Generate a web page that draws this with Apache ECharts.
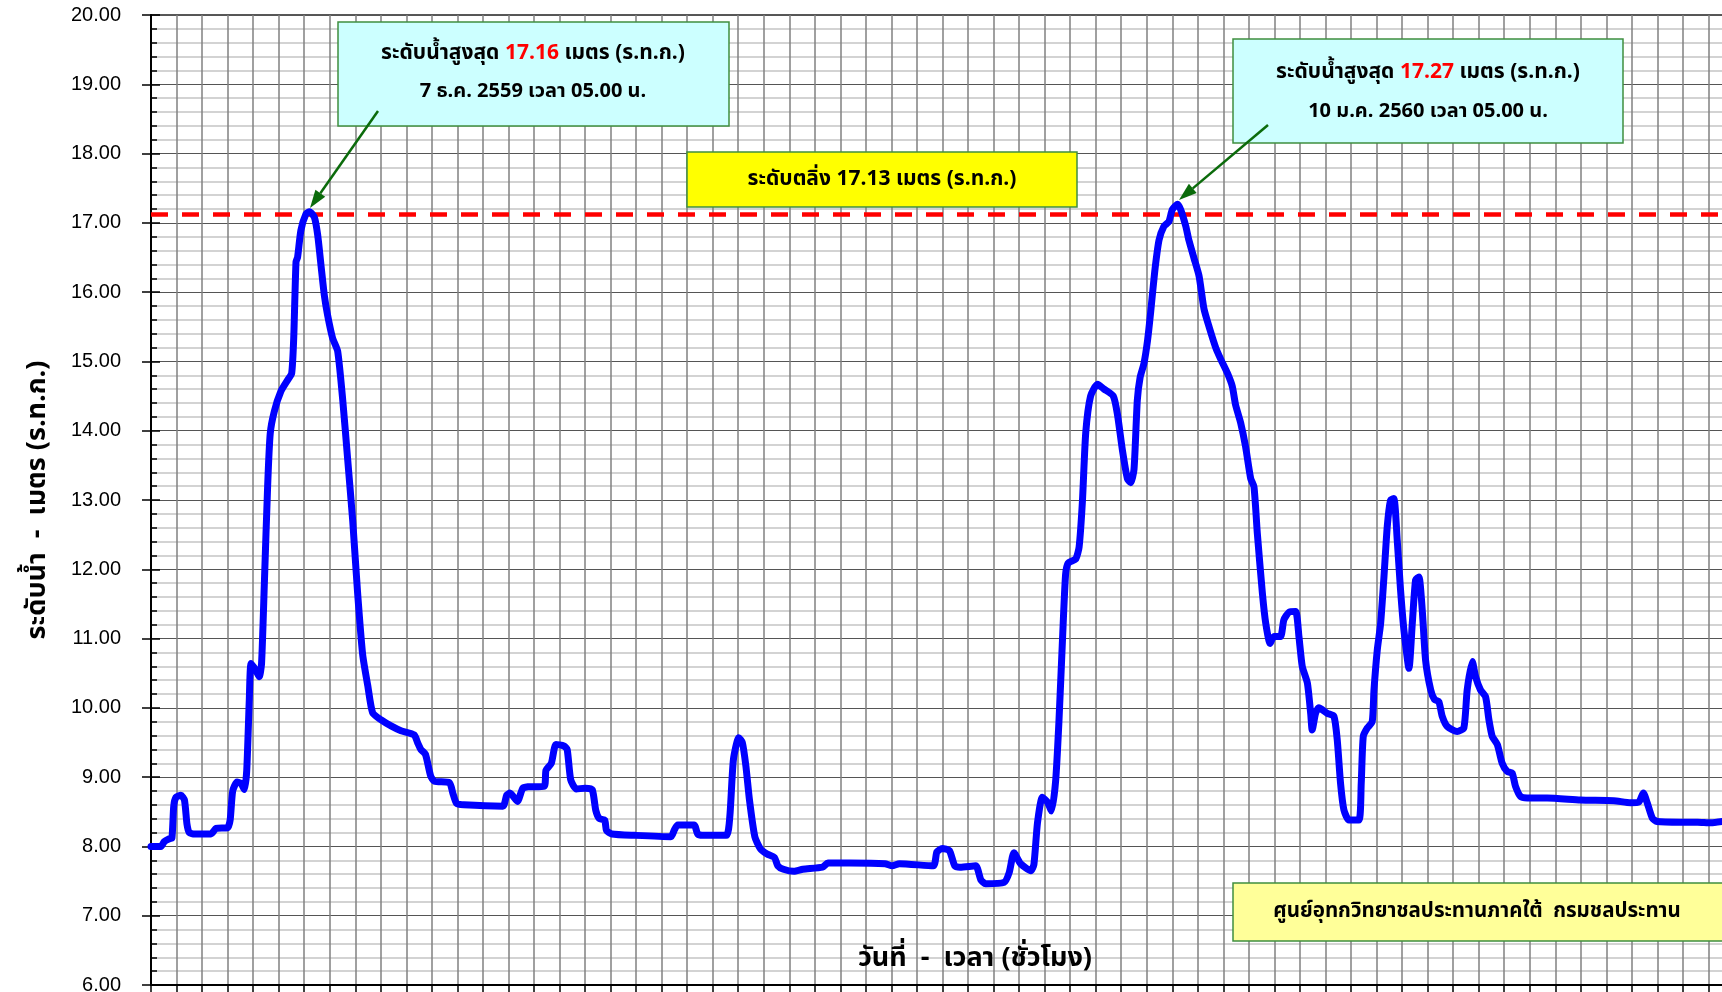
<!DOCTYPE html>
<html>
<head>
<meta charset="utf-8">
<script src="https://cdn.jsdelivr.net/npm/echarts@6/dist/echarts.min.js"></script>
<style>
  html, body { margin: 0; padding: 0; background: #fff; }
  #main { width: 1722px; height: 992px; }
</style>
</head>
<body>
<div id="main"></div>
<script>
/* วันนับจาก 1 ธ.ค. 2559 00.00 น. (หน่วย: วัน) */
var days = [
  0.00, 0.39, 0.52, 0.72, 0.82, 0.89, 0.98, 1.17, 1.31, 1.41,
  1.50, 1.70, 2.35, 2.55, 3.00, 3.10, 3.20, 3.37, 3.52, 3.66,
  3.75, 3.85, 3.92, 4.11, 4.24, 4.33, 4.44, 4.57, 4.67, 4.83,
  5.09, 5.35, 5.51, 5.59, 5.68, 5.74, 5.87, 6.07, 6.21, 6.40,
  6.53, 6.68, 6.79, 6.92, 7.11, 7.31, 7.51, 7.70, 7.90, 8.09,
  8.29, 8.49, 8.68, 9.00, 9.40, 9.79, 10.31, 10.44, 10.57, 10.75,
  10.95, 11.10, 11.69, 11.82, 11.97, 12.25, 13.78, 13.93, 14.06, 14.35,
  14.56, 14.76, 15.40, 15.47, 15.68, 15.86, 16.17, 16.30, 16.44, 16.66,
  17.00, 17.28, 17.42, 17.56, 17.77, 17.84, 18.05, 18.96, 20.36, 20.50,
  20.63, 21.27, 21.41, 21.61, 22.53, 22.67, 22.81, 23.02, 23.16, 23.30,
  23.44, 23.65, 23.86, 24.13, 24.42, 24.55, 24.77, 25.18, 25.53, 26.30,
  26.51, 27.35, 28.75, 29.03, 29.31, 30.64, 30.78, 30.99, 31.27, 31.48,
  31.69, 32.30, 32.50, 32.69, 33.41, 33.61, 33.80, 34.06, 34.46, 34.58,
  34.72, 34.91, 35.11, 35.27, 35.43, 35.56, 35.70, 35.82, 35.92, 36.22,
  36.35, 36.48, 36.61, 36.80, 37.07, 37.33, 37.69, 37.85, 38.05, 38.24,
  38.37, 38.50, 38.63, 38.74, 38.89, 39.03, 39.15, 39.31, 39.48, 39.67,
  39.87, 40.00, 40.21, 40.33, 40.53, 40.65, 40.85, 41.05, 41.24, 41.44,
  41.70, 41.90, 42.16, 42.35, 42.48, 42.68, 42.87, 43.07, 43.20, 43.33,
  43.53, 43.66, 43.83, 43.98, 44.24, 44.37, 44.57, 44.83, 44.96, 45.09,
  45.29, 45.42, 45.48, 45.61, 45.74, 46.07, 46.33, 46.46, 46.59, 46.72,
  46.92, 47.31, 47.40, 47.48, 47.64, 47.83, 47.90, 48.03, 48.16, 48.29,
  48.42, 48.55, 48.68, 48.81, 48.94, 49.07, 49.27, 49.40, 49.53, 49.66,
  49.79, 49.92, 50.12, 50.27, 50.44, 50.57, 50.77, 51.16, 51.42, 51.55,
  51.75, 51.88, 52.07, 52.27, 52.40, 52.53, 52.73, 52.92, 53.12, 53.31,
  53.44, 53.64, 53.90, 54.68, 55.99, 57.29, 57.95, 58.27, 58.45, 58.60,
  58.80, 58.99, 59.91, 60.57, 61.09, 61.55
];
/* ระดับน้ำ (ม.ร.ท.ก.) */
var levels = [
  8.00, 8.00, 8.07, 8.11, 8.12, 8.58, 8.71, 8.74, 8.67, 8.32,
  8.20, 8.18, 8.18, 8.26, 8.27, 8.38, 8.80, 8.93, 8.91, 8.82,
  9.10, 10.12, 10.64, 10.54, 10.45, 10.64, 11.80, 13.22, 13.96, 14.28,
  14.57, 14.73, 14.83, 15.34, 16.44, 16.50, 16.89, 17.13, 17.16, 17.08,
  16.82, 16.31, 15.95, 15.66, 15.34, 15.15, 14.44, 13.60, 12.70, 11.67,
  10.77, 10.32, 9.93, 9.83, 9.74, 9.67, 9.61, 9.50, 9.40, 9.33,
  9.02, 8.94, 8.92, 8.77, 8.62, 8.60, 8.58, 8.74, 8.77, 8.65,
  8.84, 8.86, 8.87, 9.10, 9.20, 9.47, 9.45, 9.40, 8.96, 8.83,
  8.84, 8.82, 8.52, 8.40, 8.38, 8.23, 8.18, 8.16, 8.14, 8.24,
  8.31, 8.31, 8.18, 8.16, 8.16, 8.43, 9.25, 9.57, 9.50, 9.16,
  8.67, 8.14, 7.97, 7.89, 7.84, 7.72, 7.67, 7.64, 7.67, 7.70,
  7.76, 7.76, 7.75, 7.72, 7.75, 7.72, 7.92, 7.97, 7.94, 7.72,
  7.70, 7.72, 7.52, 7.46, 7.48, 7.62, 7.91, 7.75, 7.65, 7.74,
  8.34, 8.71, 8.64, 8.51, 8.94, 9.80, 10.99, 11.92, 12.09, 12.15,
  12.32, 12.98, 13.97, 14.50, 14.67, 14.60, 14.50, 14.24, 13.71, 13.31,
  13.25, 13.44, 14.44, 14.77, 14.97, 15.30, 15.70, 16.29, 16.75, 16.95,
  17.02, 17.19, 17.27, 17.19, 16.95, 16.75, 16.49, 16.23, 15.76, 15.50,
  15.20, 15.03, 14.83, 14.64, 14.37, 14.11, 13.77, 13.31, 13.19, 12.52,
  11.65, 11.22, 10.93, 11.03, 11.03, 11.27, 11.38, 11.39, 11.03, 10.60,
  10.36, 9.92, 9.68, 9.92, 10.00, 9.92, 9.88, 9.54, 8.91, 8.53,
  8.38, 8.38, 8.91, 9.59, 9.71, 9.80, 10.26, 10.84, 11.22, 11.89,
  12.62, 13.00, 13.02, 12.42, 11.70, 11.13, 10.57, 11.22, 11.85, 11.89,
  11.41, 10.69, 10.26, 10.12, 10.09, 9.88, 9.73, 9.66, 9.71, 10.26,
  10.67, 10.45, 10.26, 10.16, 9.83, 9.59, 9.47, 9.20, 9.08, 9.06,
  8.87, 8.72, 8.70, 8.70, 8.67, 8.66, 8.63, 8.64, 8.77, 8.63,
  8.41, 8.36, 8.35, 8.35, 8.34, 8.36
];
var bankLevel = 17.13;   // ระดับตลิ่ง
var yMin = 6, yMax = 20;
var dayMax = 62;

var thaiFont = 'Tahoma, "Noto Sans Thai", "Noto Sans", "DejaVu Sans", sans-serif';

/* ลูกศรชี้ */
function arrow(x1, y1, x2, y2) {
  var a = Math.atan2(y2 - y1, x2 - x1);
  var len = 18, hw = 6;
  var bx = x2 - len * Math.cos(a), by = y2 - len * Math.sin(a);
  var px = -Math.sin(a) * hw, py = Math.cos(a) * hw;
  return [
    { type: 'line', shape: { x1: x1, y1: y1, x2: bx, y2: by }, style: { stroke: '#0b6b0b', lineWidth: 2.5 }, z: 100 },
    { type: 'polygon', shape: { points: [[x2, y2], [bx + px, by + py], [bx - px, by - py]] }, style: { fill: '#0b6b0b' }, z: 100 }
  ];
}

function box(x, y, w, h, fill) {
  return { type: 'rect', shape: { x: x, y: y, width: w, height: h }, style: { fill: fill, stroke: '#3f8f3f', lineWidth: 1.5 }, z: 90 };
}

function label(x, y, text, size, rich) {
  var st = { text: text, x: x, y: y, align: 'center', verticalAlign: 'middle', textAlign: 'center', textVerticalAlign: 'middle',
    font: 'bold ' + size + 'px ' + thaiFont, fill: '#000' };
  if (rich) st.rich = rich;
  return { type: 'text', style: st, z: 110 };
}

function peakRich(size) {
  return {
    a: { font: 'bold ' + size + 'px ' + thaiFont, fill: '#000' },
    r: { font: 'bold ' + size + 'px ' + thaiFont, fill: '#ff0000' }
  };
}

var chart = echarts.init(document.getElementById('main'), null, { renderer: 'canvas' });

var lineData = [];
for (var i = 0; i < days.length; i++) {
  lineData.push([days[i], levels[i]]);
}

var graphics = [];
graphics.push(box(338, 22, 391, 104, '#ccffff'));
graphics.push(label(533, 55, '{a|ระดับน้ำสูงสุด }{r|17.16}{a| เมตร (ร.ท.ก.)}', 21, peakRich(21)));
graphics.push(label(533, 93, '7 ธ.ค. 2559 เวลา 05.00 น.', 20));
graphics = graphics.concat(arrow(378, 111, 310, 208));

graphics.push(box(1233, 39, 390, 104, '#ccffff'));
graphics.push(label(1428, 74, '{a|ระดับน้ำสูงสุด }{r|17.27}{a| เมตร (ร.ท.ก.)}', 21, peakRich(21)));
graphics.push(label(1428, 113, '10 ม.ค. 2560 เวลา 05.00 น.', 20));
graphics = graphics.concat(arrow(1268, 125, 1179, 200));

graphics.push(box(687, 152, 390, 55, '#ffff00'));
graphics.push(label(882, 181, 'ระดับตลิ่ง ' + bankLevel.toFixed(2) + ' เมตร (ร.ท.ก.)', 21));

graphics.push(box(1233, 883, 495, 58, '#ffff99'));
graphics.push(label(1477, 913, 'ศูนย์อุทกวิทยาชลประทานภาคใต้  กรมชลประทาน', 20.5));

graphics.push({
  type: 'text', x: 40, y: 500, rotation: Math.PI / 2, z: 110,
  style: { text: 'ระดับน้ำ  -  เมตร (ร.ท.ก.)', align: 'center', verticalAlign: 'middle',
    textAlign: 'center', textVerticalAlign: 'middle', font: 'bold 27px ' + thaiFont, fill: '#000' }
});
graphics.push(label(975, 961, 'วันที่  -  เวลา (ชั่วโมง)', 27));

var option = {
  animation: false,
  backgroundColor: '#fff',
  grid: {
    left: 151, top: 15, width: 1583, height: 970,
    outerBoundsMode: 'none',
    show: true, borderColor: '#222', borderWidth: 1.5, backgroundColor: 'transparent'
  },
  xAxis: [{
    type: 'value',
    min: 0, max: dayMax, interval: 1,
    axisLine: { show: true, lineStyle: { color: '#000', width: 2 } },
    axisTick: { show: true, length: 8, lineStyle: { color: '#000', width: 1.5 } },
    axisLabel: { show: false },
    splitLine: { show: true, lineStyle: { color: '#808080', width: 1.5 } }
  }],
  yAxis: [{
    type: 'value',
    min: yMin, max: yMax, interval: 1,
    position: 'left',
    axisLine: { show: true, lineStyle: { color: '#000', width: 2 } },
    axisTick: { show: true, inside: true, length: 9, lineStyle: { color: '#000', width: 1.5 } },
    minorTick: { show: true, splitNumber: 5, length: 6, lineStyle: { color: '#000', width: 1.5 } },
    axisLabel: {
      show: true, margin: 30, fontSize: 20, color: '#000', fontFamily: '"Liberation Sans", Arial, sans-serif',
      formatter: function (v) { return v.toFixed(2); }
    },
    splitLine: { show: true, lineStyle: { color: '#555', width: 1 } },
    minorSplitLine: { show: true, lineStyle: { color: '#d3d3d3', width: 2 } }
  }, {
    type: 'value',
    min: yMin, max: yMax, interval: 1,
    position: 'left',
    axisLine: { show: false },
    axisTick: { show: true, inside: false, length: 9, lineStyle: { color: '#000', width: 1.5 } },
    axisLabel: { show: false },
    splitLine: { show: false }
  }],
  series: [{
    type: 'line',
    data: lineData,
    smooth: 0.2,
    showSymbol: false,
    symbol: 'none',
    lineStyle: { color: '#0000ff', width: 7, cap: 'round', join: 'round' },
    z: 5,
    markLine: {
      silent: true,
      symbol: 'none',
      label: { show: false },
      lineStyle: { color: '#ff0000', width: 4.5, type: [17, 14] },
      data: [{ yAxis: bankLevel }],
      z: 4
    }
  }],
  graphic: graphics
};

chart.setOption(option);
</script>
</body>
</html>
